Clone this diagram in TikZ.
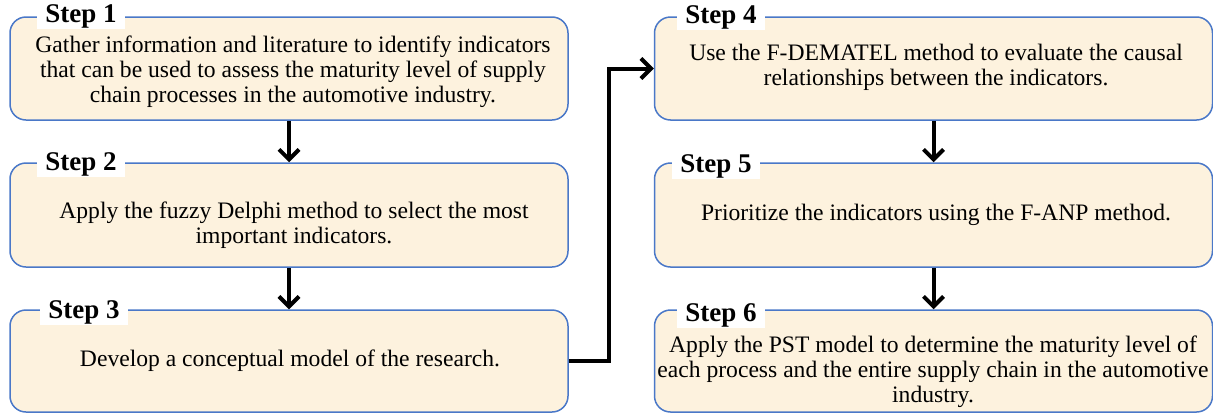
\documentclass[tikz,border=0pt]{standalone}
\usepackage{fontspec}
\setmainfont{Liberation Serif}
\usetikzlibrary{arrows.meta,calc}
\definecolor{boxfill}{HTML}{FDF2DE}
\definecolor{boxline}{HTML}{4A78C8}
\begin{document}
\begin{tikzpicture}[x=0.5pt,y=-0.5pt,
  stepbox/.style={draw=boxline, fill=boxfill, line width=0.75pt, rounded corners=8pt, minimum width=279pt, inner sep=0pt},
  steptext/.style={font=\fontsize{11.8}{12.5}\selectfont, align=center, inner sep=0pt},
  steplabel/.style={font=\fontsize{13.5}{14}\selectfont\bfseries, fill=white, inner xsep=4pt, inner ysep=0.5pt, anchor=west},
  arr/.style={line width=2pt, -{Straight Barb[length=5pt,width=10pt,line width=2pt]}}]
\useasboundingbox (0,0) rectangle (1213,413);
% boxes
\node[stepbox, minimum height=51.5pt] (b1) at (289,68.5) {};
\node[stepbox, minimum height=52pt] (b2) at (289,215) {};
\node[stepbox, minimum height=51pt] (b3) at (289,361) {};
\node[stepbox, minimum height=51.5pt] (b4) at (933.5,68.5) {};
\node[stepbox, minimum height=52pt] (b5) at (933.5,215) {};
\node[stepbox, minimum height=51pt] (b6) at (933.5,361) {};
% texts
\node[steptext] (t1) at (293,72) {Gather information and literature to identify indicators\\that can be used to assess the maturity level of supply\\chain processes in the automotive industry.};
\node[steptext] (t2) at (294,225.5) {Apply the fuzzy Delphi method to select the most\\important indicators.};
\node[steptext] (t3) at (290,361) {Develop a conceptual model of the research.};
\node[steptext] (t4) at (936,67.5) {Use the F-DEMATEL method to evaluate the causal\\relationships between the indicators.};
\node[steptext] (t5) at (936,215) {Prioritize\ the indicators using the F-ANP method.};
\node[steptext] (t6) at (933,372) {Apply the PST model to determine the maturity level of\\each process and the entire supply chain in the automotive\\industry.};
% labels
\node[steplabel] (l1) at (37,16) {Step 1};
\node[steplabel] (l2) at (37,164) {Step 2};
\node[steplabel] (l3) at (40,312) {Step 3};
\node[steplabel] (l4) at (677,17) {Step 4};
\node[steplabel] (l5) at (672,166) {Step 5};
\node[steplabel] (l6) at (677,315) {Step 6};
% arrows
\draw[arr] (b1.south) -- (b2.north);
\draw[arr] (b2.south) -- (b3.north);
\draw[arr] (b4.south) -- (b5.north);
\draw[arr] (b5.south) -- (b6.north);
\coordinate (bend) at (609,0);
\draw[arr] (b3.east) -- (bend |- b3.east) |- (b4.west);
\end{tikzpicture}
\end{document}
